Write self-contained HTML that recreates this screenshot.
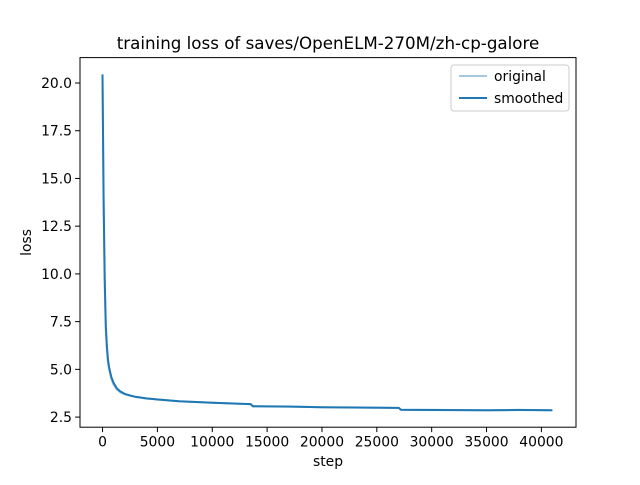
<!DOCTYPE html>
<html><head><meta charset="utf-8"><style>
body{margin:0;background:#fff;font-family:"Liberation Sans","DejaVu Sans",sans-serif}
svg text{font-family:"DejaVu Sans","Liberation Sans",sans-serif}
</style></head><body>
<svg id="chart" width="640" height="480" xmlns="http://www.w3.org/2000/svg">
<rect width="640" height="480" fill="#fff"/>
<g id="plot"></g>
</svg>
<script>
const steps = [0,100,200,300,400,500,600,800,1000,1300,1600,2000,2500,3000,4000,5000,7000,10000,13500,13700,17000,20000,25000,27000,27200,30000,35000,38000,41000];
const smoothed = [20.45,14,9.8,7.3,6.2,5.5,5.1,4.6,4.3,4.0,3.85,3.72,3.63,3.56,3.48,3.42,3.33,3.25,3.18,3.07,3.05,3.02,2.99,2.98,2.88,2.87,2.86,2.87,2.86];
const original = [20.4,13.5,9.4,7.0,6.0,5.35,5.0,4.5,4.2,3.95,3.8,3.7,3.62,3.55,3.47,3.43,3.32,3.26,3.17,3.06,3.06,3.01,3.0,2.97,2.87,2.88,2.85,2.88,2.85];
const xTicks = [0,5000,10000,15000,20000,25000,30000,35000,40000];
const yTicks = [2.5,5.0,7.5,10.0,12.5,15.0,17.5,20.0];
const L=80,R=576,T=57.6,B=427.2;
const xmin=-2055,xmax=43155;
const ymax=20.45+0.88;
const yLo=2.85-0.88;
function X(v){return L+(v-xmin)/(xmax-xmin)*(R-L);}
function Y(v){return B-(v-yLo)/(ymax-yLo)*(B-T);}
const ns="http://www.w3.org/2000/svg";
const g=document.getElementById('plot');
function mk(t,a,txt){const e=document.createElementNS(ns,t);for(const k in a)e.setAttribute(k,a[k]);if(txt!==undefined)e.textContent=txt;g.appendChild(e);return e;}
function pts(ys){return steps.map((s,i)=>X(s).toFixed(1)+','+Y(ys[i]).toFixed(1)).join(' ');}
let e=mk('polyline',{points:pts(original),fill:'none',stroke:'#1f77b4','stroke-opacity':0.4,'stroke-width':2});


e=mk('polyline',{points:pts(smoothed),fill:'none',stroke:'#1f77b4','stroke-width':2});


e=mk('rect',{x:L,y:T,width:R-L,height:B-T,fill:'none',stroke:'#000','stroke-width':1});


xTicks.forEach(v=>{const x=X(v);
 mk('line',{x1:x,x2:x,y1:B,y2:B+4.9,stroke:'#000','stroke-width':1});
 const t=mk('text',{x:x,y:B+19.5,'text-anchor':'middle','font-size':13.9},String(v));
 
 });
yTicks.forEach(v=>{const y=Y(v);
 mk('line',{x1:L-4.9,x2:L,y1:y,y2:y,stroke:'#000','stroke-width':1});
 const t=mk('text',{x:L-8,y:y+5,'text-anchor':'end','font-size':13.9},v.toFixed(1));
 
 });
e=mk('text',{x:(L+R)/2,y:466,'text-anchor':'middle','font-size':13.9},'step');


e=mk('text',{x:31,y:(T+B)/2,'text-anchor':'middle','font-size':13.9,transform:`rotate(-90 31 ${(T+B)/2})`},'loss');


e=mk('text',{x:(L+R)/2,y:49,'text-anchor':'middle','font-size':16.7},'training loss of saves/OpenELM-270M/zh-cp-galore');


e=mk('rect',{x:451,y:65,width:118,height:46,rx:3,fill:'#fff','fill-opacity':0.8,stroke:'#ccc','stroke-width':1});


mk('line',{x1:459,x2:487,y1:76,y2:76,stroke:'#1f77b4','stroke-opacity':0.4,'stroke-width':2});
e=mk('text',{x:494,y:81,'font-size':13.9},'original');


mk('line',{x1:459,x2:487,y1:98,y2:98,stroke:'#1f77b4','stroke-width':2});
e=mk('text',{x:494,y:103,'font-size':13.9},'smoothed');


</script>
</body></html>
